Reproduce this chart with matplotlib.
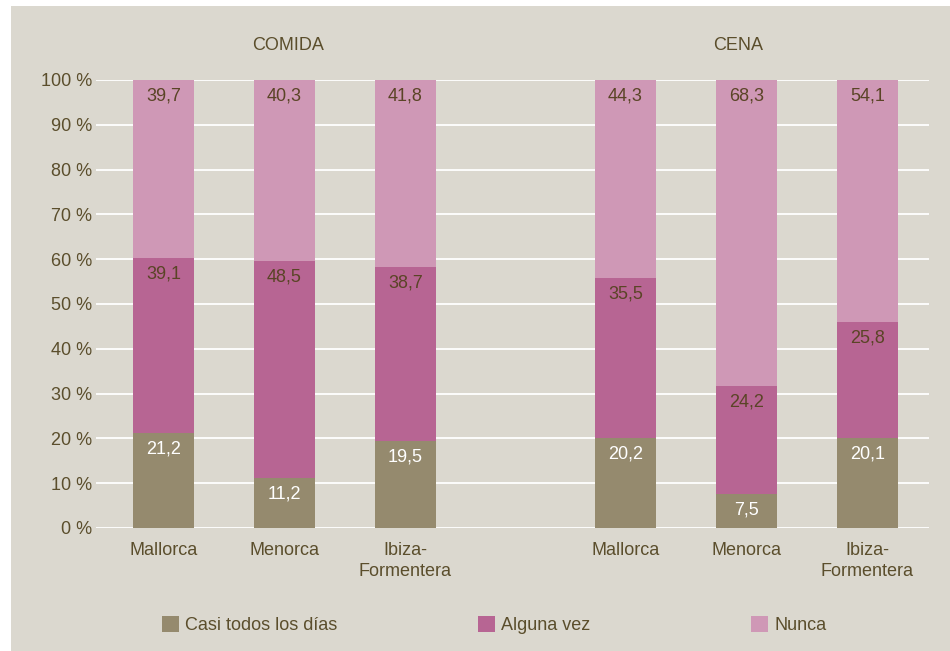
import matplotlib
matplotlib.use("Agg")
import matplotlib.pyplot as plt
from matplotlib.patches import Rectangle

# data
groups = ["COMIDA", "CENA"]
islands = ["Mallorca", "Menorca", "Ibiza-\nFormentera"]
casi_todos = [21.2, 11.2, 19.5, 20.2, 7.5, 20.1]
alguna_vez = [39.1, 48.5, 38.7, 35.5, 24.2, 25.8]
nunca = [39.7, 40.3, 41.8, 44.3, 68.3, 54.1]
series_names = ["Casi todos los días", "Alguna vez", "Nunca"]

colors = ["#958a6e", "#b76593", "#cf98b6"]
label_colors = ["white", "#5a4426", "#5a4426"]
text_color = "#5b4e2c"
bg = "#dbd8cf"

plt.rcParams["font.family"] = ["Liberation Sans Narrow", "Liberation Sans", "DejaVu Sans"]

fig = plt.figure(figsize=(9.5, 6.51), dpi=100)
fig.patch.set_facecolor("white")
fig.patches.append(Rectangle((11 / 950, 0), 1 - 11 / 950, 1 - 6 / 651,
                             transform=fig.transFigure, facecolor=bg,
                             edgecolor="none", zorder=-10))

ax = fig.add_axes([96 / 950, 1 - 528 / 651, (929 - 96) / 950, (528 - 80) / 651])
ax.set_facecolor("none")

gap = 1.818
xs = [0, 1, 2, gap + 2, gap + 3, gap + 4]
width = 0.504

handles = []
bottom = [0.0] * len(xs)
for vals, color, lcol, name in zip([casi_todos, alguna_vez, nunca], colors, label_colors, series_names):
    bars = ax.bar(xs, vals, width=width, bottom=bottom, color=color, label=name, zorder=3)
    handles.append(bars)
    for x, b, v in zip(xs, bottom, vals):
        ax.annotate(f"{v:.1f}".replace(".", ","), (x, b + v), xytext=(0, -16),
                    textcoords="offset pixels", ha="center", va="center",
                    color=lcol, fontsize=13, zorder=4)
    bottom = [b + v for b, v in zip(bottom, vals)]

ax.set_ylim(0, 100)
ax.set_xlim(-0.558, 6.327)
ax.set_yticks(range(0, 101, 10))
ax.set_yticklabels([f"{t} %" for t in range(0, 101, 10)])
ax.set_xticks(xs)
ax.set_xticklabels(islands * 2, linespacing=1.35)
ax.tick_params(length=0, labelsize=13, labelcolor=text_color)
ax.tick_params(axis="y", pad=3)
ax.tick_params(axis="x", pad=10)
ax.grid(True, axis="y", color="white", linewidth=1.3, zorder=1)
ax.set_axisbelow(True)
for side in ax.spines.values():
    side.set_visible(False)

ax.text(xs[1] + 0.03, 1.078, groups[0], transform=ax.get_xaxis_transform(),
        ha="center", va="center", fontsize=13, color=text_color)
ax.text(xs[4] - 0.066, 1.078, groups[1], transform=ax.get_xaxis_transform(),
        ha="center", va="center", fontsize=13, color=text_color)

# one legend per entry so each sits where the reference puts it
for h, name, left in zip(handles, series_names, [162, 478, 751]):
    leg = fig.legend([h], [name], loc="center left",
                     bbox_to_anchor=(left / 950, 1 - 625 / 651),
                     frameon=False, fontsize=13, handlelength=0.95, handleheight=0.95,
                     handletextpad=0.35, labelcolor=text_color,
                     borderaxespad=0, borderpad=0)

fig.savefig("out.png", dpi=100, facecolor=fig.get_facecolor())
